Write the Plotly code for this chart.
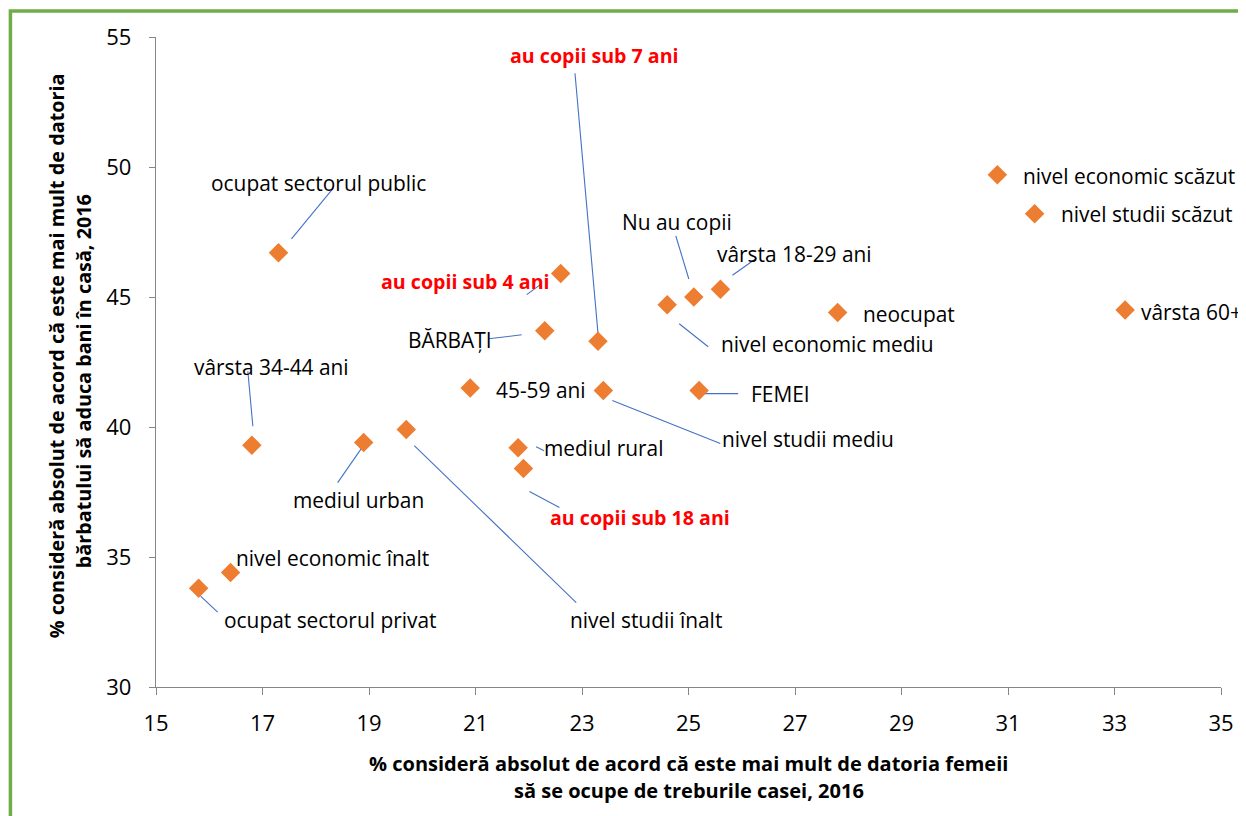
import plotly.graph_objects as go

# ---- data ----
labels = [
    "ocupat sectorul public", "au copii sub 4 ani", "BĂRBAȚI", "au copii sub 7 ani",
    "nivel economic mediu", "Nu au copii", "vârsta 18-29 ani", "neocupat",
    "nivel economic scăzut", "nivel studii scăzut", "vârsta 60+", "45-59 ani",
    "nivel studii mediu", "FEMEI", "vârsta 34-44 ani", "mediul urban",
    "nivel studii înalt", "mediul rural", "au copii sub 18 ani",
    "nivel economic înalt", "ocupat sectorul privat",
]
x_femeie = [17.3, 22.6, 22.3, 23.3, 24.6, 25.1, 25.6, 27.8, 30.8, 31.5, 33.2, 20.9,
            23.4, 25.2, 16.8, 18.9, 19.7, 21.8, 21.9, 16.4, 15.8]
y_barbat = [46.7, 45.9, 43.7, 43.3, 44.7, 45.0, 45.3, 44.4, 49.7, 48.2, 44.5, 41.5,
            41.4, 41.4, 39.3, 39.4, 39.9, 39.2, 38.4, 34.4, 33.8]
highlight = ["au copii sub 4 ani", "au copii sub 7 ani", "au copii sub 18 ani"]

x_ticks = list(range(15, 36, 2))
y_ticks = list(range(30, 56, 5))

x_title = ["% consideră absolut de acord că este mai mult de datoria femeii",
           "să se ocupe de treburile casei, 2016"]
y_title = ["% consideră absolut de acord că este mai mult de datoria",
           "bărbatului să aduca bani în casă, 2016"]

# ---- layout helpers (label offsets in screen px, relative to the point) ----
label_off = {
    "ocupat sectorul public": (40, -70), "au copii sub 4 ani": (-95, 8),
    "BĂRBAȚI": (-95, 9), "au copii sub 7 ani": (-3, -286),
    "nivel economic mediu": (160, 39), "Nu au copii": (-17, -75),
    "vârsta 18-29 ani": (74, -35), "neocupat": (71, 1),
    "nivel economic scăzut": (132, 1), "nivel studii scăzut": (112, 0),
    "vârsta 60+": (66, 2), "45-59 ani": (71, 2),
    "nivel studii mediu": (205, 48), "FEMEI": (81, 3),
    "vârsta 34-44 ani": (20, -78), "mediul urban": (-5, 57),
    "nivel studii înalt": (240, 190), "mediul rural": (85, 0),
    "au copii sub 18 ani": (117, 49), "nivel economic înalt": (102, -15),
    "ocupat sectorul privat": (132, 32),
}
leader = {
    "ocupat sectorul public": ((55, -65), (13, -14)),
    "au copii sub 4 ani": ((-34, 21), (-19, 10)),
    "BĂRBAȚI": ((-56, 8), (-23, 4)),
    "au copii sub 7 ani": ((-23, -268), (0, -8)),
    "nivel economic mediu": ((12, 19), (41, 42)),
    "Nu au copii": ((-18, -61), (-5, -18)),
    "vârsta 18-29 ani": ((12, -14), (36, -31)),
    "nivel studii mediu": ((9, 10), (117, 53)),
    "FEMEI": ((-4, 3), (39, 3)),
    "vârsta 34-44 ani": ((-4, -74), (1, -19)),
    "mediul urban": ((-26, 40), (-1, 4)),
    "nivel studii înalt": ((8, 16), (170, 173)),
    "mediul rural": ((18, -1), (26, 3)),
    "au copii sub 18 ani": ((6, 23), (36, 39)),
    "ocupat sectorul privat": ((2, 8), (19, 24)),
}

# page body has an 8px margin: figure is drawn from (8, 8) in the screenshot
OFF = 8
W, H = 1246 - OFF, 816 - OFF
ML, MR, MT, MB = 156 - OFF, 22, 37 - OFF, 129
PW, PH = W - ML - MR, H - MT - MB

def px(xp):
    return (xp - OFF - ML) / PW

def py(yp):
    return 1 - (yp - OFF - MT) / PH

FONT = "Open Sans"
LINE_BLUE = "#4472C4"
ORANGE = "#ED7D31"
AXIS_GREY = "#868686"

fig = go.Figure()
fig.add_trace(go.Scatter(
    x=x_femeie, y=y_barbat, mode="markers",
    marker=dict(symbol="diamond", size=15, color=ORANGE, line=dict(width=0)),
    text=labels, hoverinfo="text+x+y", showlegend=False,
))

shapes = []
annotations = []
for lab, xv, yv in zip(labels, x_femeie, y_barbat):
    dx, dy = label_off[lab]
    is_red = lab in highlight
    annotations.append(dict(
        x=xv, y=yv, xref="x", yref="y", text=f"<b>{lab}</b>" if is_red else lab,
        showarrow=False, xshift=dx, yshift=-dy, xanchor="center", yanchor="middle",
        font=dict(family=FONT, size=19.6 if is_red else 20.9,
                  color="#FF0000" if is_red else "#000000"),
    ))
    if lab in leader:
        (sx, sy), (ex, ey) = leader[lab]
        shapes.append(dict(
            type="line", xref="x", yref="y", xsizemode="pixel", ysizemode="pixel",
            xanchor=xv, yanchor=yv, x0=sx, y0=-sy, x1=ex, y1=-ey,
            line=dict(color=LINE_BLUE, width=1.1), layer="below",
        ))

# axis titles (two lines each)
for txt, ypix in zip(x_title, [763, 790]):
    annotations.append(dict(
        x=px(690), y=py(ypix), xref="paper", yref="paper", text=f"<b>{txt}</b>",
        showarrow=False, xanchor="center", yanchor="middle",
        font=dict(family=FONT, size=20, color="#000000"),
    ))
for txt, xpix, ypix in zip(y_title, [56, 83], [356, 381]):
    annotations.append(dict(
        x=px(xpix), y=py(ypix), xref="paper", yref="paper", text=f"<b>{txt}</b>",
        showarrow=False, xanchor="center", yanchor="middle", textangle=-90,
        font=dict(family=FONT, size=19.8, color="#000000"),
    ))

# green frame
shapes.append(dict(
    type="rect", xref="paper", yref="paper",
    x0=px(10), x1=px(1246 + 20), y0=py(816 + 20), y1=py(11),
    line=dict(color="#70AD47", width=3.5), fillcolor="rgba(0,0,0,0)", layer="above",
))

fig.update_layout(
    width=W, height=H,
    margin=dict(l=ML, r=MR, t=MT, b=MB),
    paper_bgcolor="white", plot_bgcolor="white",
    shapes=shapes, annotations=annotations,
    font=dict(family=FONT, color="#000000"),
    xaxis=dict(
        range=[15, 35], tickvals=x_ticks, ticktext=[str(v) for v in x_ticks],
        showgrid=False, zeroline=False, showline=True, linecolor=AXIS_GREY, linewidth=1.3,
        ticks="outside", ticklen=7, tickcolor=AXIS_GREY, tickwidth=1.3,
        tickfont=dict(family=FONT, size=22, color="#000000"), ticklabelstandoff=9,
    ),
    yaxis=dict(
        range=[30, 55], tickvals=y_ticks, ticktext=[str(v) for v in y_ticks],
        showgrid=False, zeroline=False, showline=True, linecolor=AXIS_GREY, linewidth=1.3,
        ticks="outside", ticklen=6, tickcolor=AXIS_GREY, tickwidth=1.3,
        tickfont=dict(family=FONT, size=22, color="#000000"), ticklabelstandoff=13,
    ),
)

fig.write_html("out.html")
